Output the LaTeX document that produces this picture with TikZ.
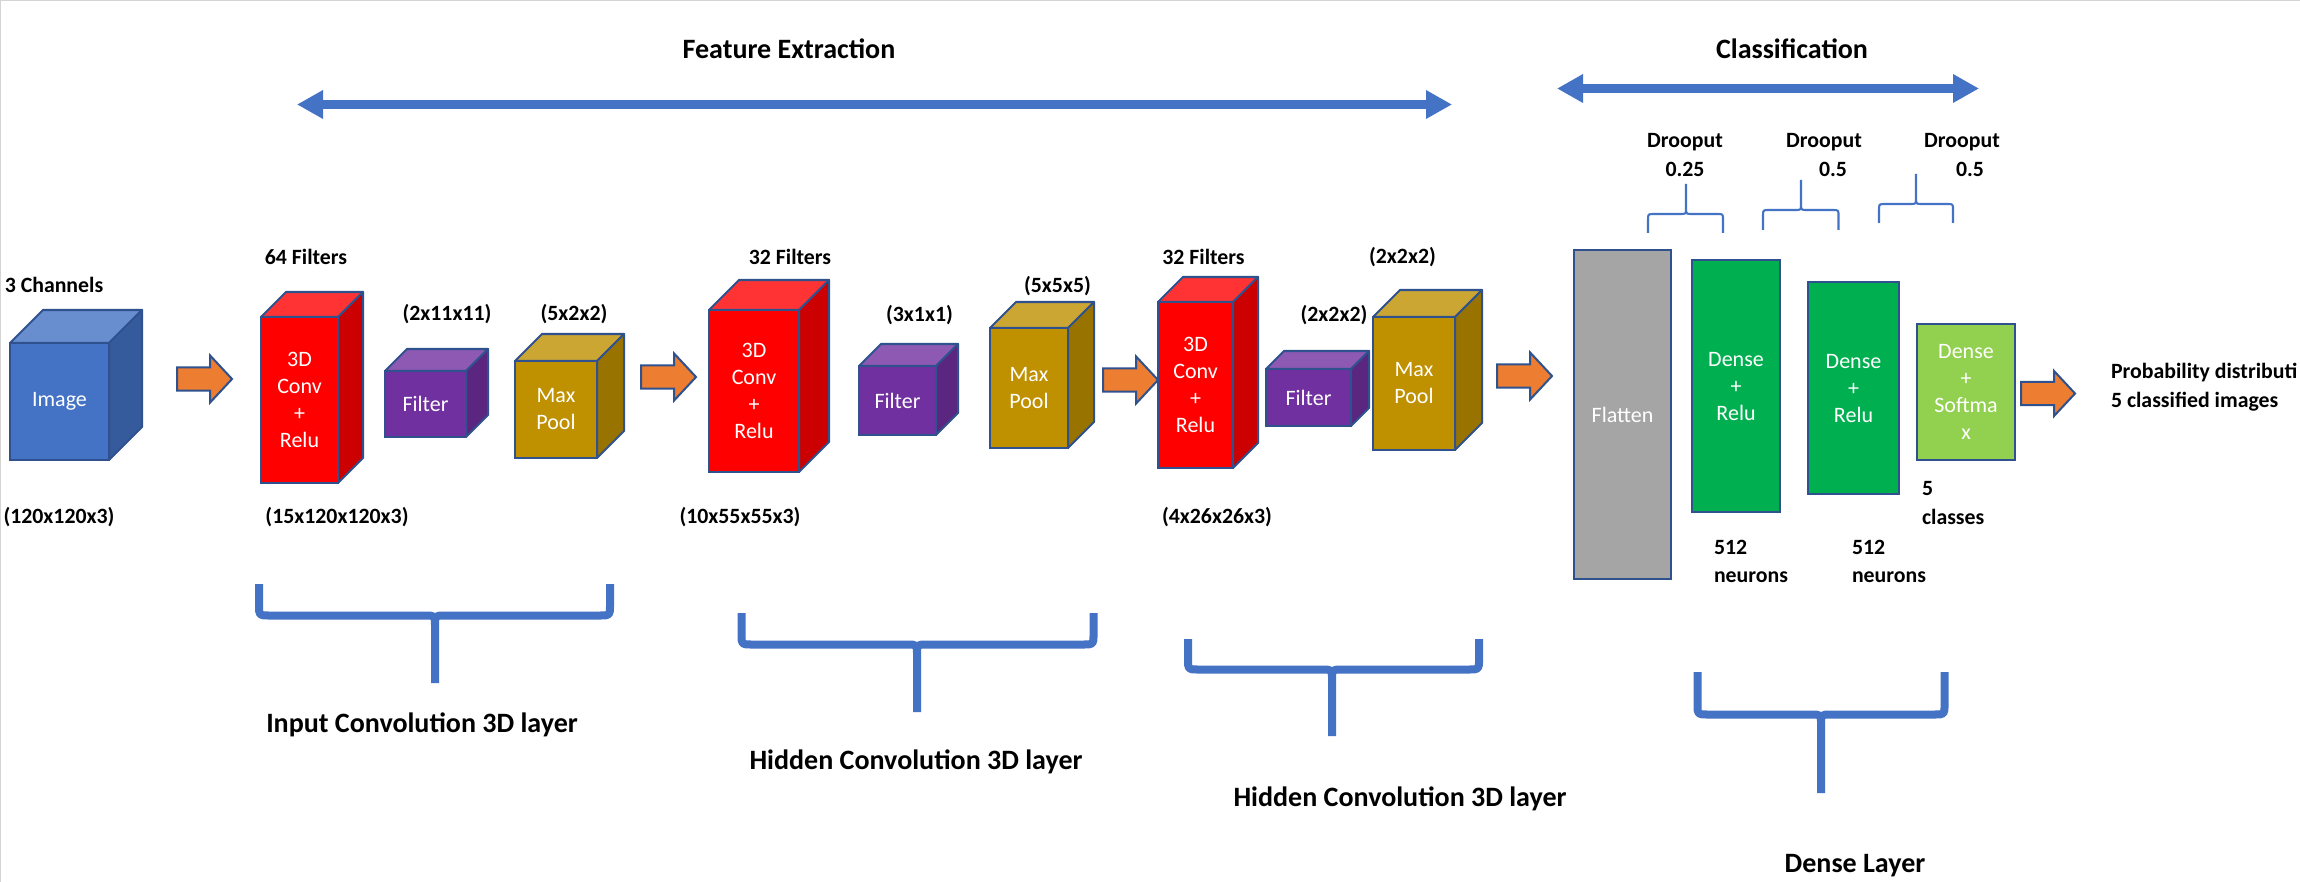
\documentclass[tikz,border=0pt]{standalone}
\usepackage{fontspec}
\setmainfont{Carlito}
\usetikzlibrary{shapes.arrows,arrows.meta}

\definecolor{outl}{HTML}{2F528F}
\definecolor{blu}{HTML}{4472C4}
\definecolor{imgF}{HTML}{4472C4}
\definecolor{imgT}{HTML}{698ED0}
\definecolor{imgS}{HTML}{365B9D}
\definecolor{cnvF}{HTML}{FF0000}
\definecolor{cnvT}{HTML}{FF3333}
\definecolor{cnvS}{HTML}{CC0000}
\definecolor{filF}{HTML}{7030A0}
\definecolor{filT}{HTML}{8D59B3}
\definecolor{filS}{HTML}{5A2680}
\definecolor{poolF}{HTML}{BF9000}
\definecolor{poolT}{HTML}{CCA633}
\definecolor{poolS}{HTML}{997300}
\definecolor{orng}{HTML}{ED7D31}
\definecolor{flatC}{HTML}{A5A5A5}
\definecolor{dnsC}{HTML}{00B050}
\definecolor{smxC}{HTML}{92D050}
\definecolor{frameC}{HTML}{D4D4D4}

% name, left, top, width, height, depth, colour prefix, text
\newcommand{\cubeshape}[8]{%
  \filldraw[fill=#7T, draw=outl, line width=0.57pt, line join=round]
    (#2,#3) -- ++(#6,-#6) -- ++(#4,0) -- ++(-#6,#6) -- cycle;
  \filldraw[fill=#7S, draw=outl, line width=0.57pt, line join=round]
    ({#2+#4},#3) -- ++(#6,-#6) -- ++(0,#5) -- ++(-#6,#6) -- cycle;
  \node[face, fill=#7F, minimum width={#4*0.01cm}, minimum height={#5*0.01cm}, anchor=north west] (#1) at (#2,#3) {#8};
}

% left, right, leg end y, bar y, tip x, tip end y, radius, signed radius, style
\newcommand{\bracedraw}[9]{%
  \draw[#9] (#1,#3) -- (#1,{#4-(#8)}) .. controls (#1,#4) and (#1,#4) .. ({#1+#7},#4)
        -- ({#5-#7},#4) .. controls (#5,#4) and (#5,#4) .. (#5,{#4+(#8)}) -- (#5,#6)
        (#2,#3) -- (#2,{#4-(#8)}) .. controls (#2,#4) and (#2,#4) .. ({#2-#7},#4)
        -- ({#5+#7},#4) .. controls (#5,#4) and (#5,#4) .. (#5,{#4+(#8)});
}

\begin{document}
\begin{tikzpicture}[x=0.01cm, y=-0.01cm,
  face/.style={draw=outl, line width=0.57pt, text=white, font=\fontsize{6.26}{7.68}\selectfont, align=center, inner sep=0pt, outer sep=0pt},
  lbl/.style={font=\fontsize{6.2}{8.1}\selectfont\bfseries, inner sep=0pt, outer sep=0pt},
  ttl/.style={font=\fontsize{7.97}{9.6}\selectfont\bfseries, inner sep=0pt, outer sep=0pt},
  barrow/.style={single arrow, draw=outl, fill=orng, line width=0.57pt, minimum height=0.55cm, minimum width=0.45cm, single arrow head extend=0.12cm, single arrow tip angle=94, inner xsep=0pt, inner ysep=0.105cm, outer sep=0pt, anchor=tail},
  bigarrow/.style={blu, line width=0.09cm, {Triangle[length=0.26cm,width=0.27cm]}-{Triangle[length=0.26cm,width=0.27cm]}},
  brc/.style={blu, line width=0.08cm, line join=round},
  sbrc/.style={blu, line width=0.6pt, line join=round},
]
\useasboundingbox (0,0) rectangle (2300,882);
\fill[white] (0,0) rectangle (2300,882);
\draw[frameC, line width=0.4pt] (0.7,882) -- (0.7,0.7) -- (2300,0.7);

% section arrows
\coordinate (fe-l) at (297,104.5);
\coordinate (fe-r) at (1452,104.5);
\draw[bigarrow] (fe-l) -- (fe-r);
\node[ttl] (fe) at (789,49) {Feature Extraction};
\coordinate (cl-l) at (1557,88.5);
\coordinate (cl-r) at (1979,88.5);
\draw[bigarrow] (cl-l) -- (cl-r);
\node[ttl] (cl) at (1792,49) {Classification};

% cubes
\cubeshape{img}{10}{343}{99}{117}{33}{img}{Image}
\cubeshape{conv1}{261}{317}{77}{166}{25}{cnv}{3D\\Conv\\+\\Relu}
\cubeshape{fil1}{385}{371}{81}{66}{22}{fil}{Filter}
\cubeshape{pool1}{515}{361}{82}{97}{27}{pool}{Max\\Pool}
\cubeshape{conv2}{709}{310}{90}{162}{30}{cnv}{3D\\Conv\\+\\Relu}
\cubeshape{fil2}{859}{366}{77}{69}{22}{fil}{Filter}
\cubeshape{pool2}{990}{328}{78}{120}{26}{pool}{Max\\Pool}
\cubeshape{conv3}{1158}{302}{75}{166}{25}{cnv}{3D\\Conv\\+\\Relu}
\cubeshape{fil3}{1266}{369}{85}{57}{18}{fil}{Filter}
\cubeshape{pool3}{1373}{317}{82}{133}{27}{pool}{Max\\Pool}

% dense part
\node[face, fill=flatC, minimum width=0.97cm, minimum height=3.29cm, anchor=north west] (flat) at (1574,250) {Flatten};
\node[face, fill=dnsC, minimum width=0.88cm, minimum height=2.52cm, anchor=north west] (dense1) at (1692,260) {Dense\\+\\Relu};
\node[face, fill=dnsC, minimum width=0.91cm, minimum height=2.12cm, anchor=north west] (dense2) at (1808,282) {Dense\\+\\Relu};
\node[face, fill=smxC, minimum width=0.98cm, minimum height=1.36cm, anchor=north west] (dense3) at (1917,324) {Dense\\+\\Softma\\x};

% block arrows
\node[barrow] (ar1) at (177,379) {};
\node[barrow] (ar2) at (641,377) {};
\node[barrow] (ar3) at (1103,380) {};
\node[barrow] (ar4) at (1497,376) {};
\node[barrow, minimum height=0.54cm, minimum width=0.43cm, single arrow head extend=0.11cm] (ar5) at (2021,393.5) {};

% labels
\node[lbl] (l-ch) at (54,285) {3 Channels};
\node[lbl] (l-in) at (59,517) {(120x120x3)};
\node[lbl] (l-f64) at (306,257) {64 Filters};
\node[lbl] (l-o1) at (337,517) {(15x120x120x3)};
\node[lbl] (l-k1) at (447,314) {(2x11x11)};
\node[lbl] (l-p1) at (574,314) {(5x2x2)};
\node[lbl] (l-f32a) at (790,257) {32 Filters};
\node[lbl] (l-o2) at (740,517) {(10x55x55x3)};
\node[lbl] (l-k2) at (919.5,315) {(3x1x1)};
\node[lbl] (l-p2) at (1057.5,286) {(5x5x5)};
\node[lbl] (l-f32b) at (1203.5,257) {32 Filters};
\node[lbl] (l-o3) at (1217,517) {(4x26x26x3)};
\node[lbl] (l-k3) at (1334,315) {(2x2x2)};
\node[lbl] (l-p3) at (1402.5,257) {(2x2x2)};

\node[lbl, align=center] (d1) at (1685,155) {Drooput\\0.25};
\node[lbl, align=center] (d2) at (1824,155) {Drooput\\\hspace*{0.18cm}0.5};
\node[lbl, align=center] (d3) at (1962,155) {Drooput\\\hspace*{0.16cm}0.5};

\node[lbl, align=left, anchor=west] (n1) at (1714,561.5) {512\\neurons};
\node[lbl, align=left, anchor=west] (n2) at (1852,561.5) {512\\neurons};
\node[lbl, align=left, anchor=west] (n3) at (1922,503) {5\\classes};
\node[lbl, align=left, anchor=west] (prob) at (2111,387) {Probability distributi\\5 classified images};

% braces
\bracedraw{259}{610}{584}{615.5}{435}{683}{10}{10}{brc}
\bracedraw{741.5}{1093.5}{613}{644.5}{917}{712}{10}{10}{brc}
\bracedraw{1188}{1479}{639}{669.5}{1332}{736}{10}{10}{brc}
\bracedraw{1697.5}{1944.5}{672}{714.5}{1821}{793}{10}{10}{brc}
\bracedraw{1648}{1723}{233}{214}{1686}{184}{6}{-6}{sbrc}
\bracedraw{1763}{1838.5}{230}{210}{1801}{180}{6}{-6}{sbrc}
\bracedraw{1879}{1953}{223}{204}{1916}{174}{6}{-6}{sbrc}

\node[ttl] (t1) at (422,725) {Input Convolution 3D layer};
\node[ttl] (t2) at (916,762) {Hidden Convolution 3D layer};
\node[ttl] (t3) at (1400,799) {Hidden Convolution 3D layer};
\node[ttl] (t4) at (1855,866) {Dense Layer};
\end{tikzpicture}
\end{document}
